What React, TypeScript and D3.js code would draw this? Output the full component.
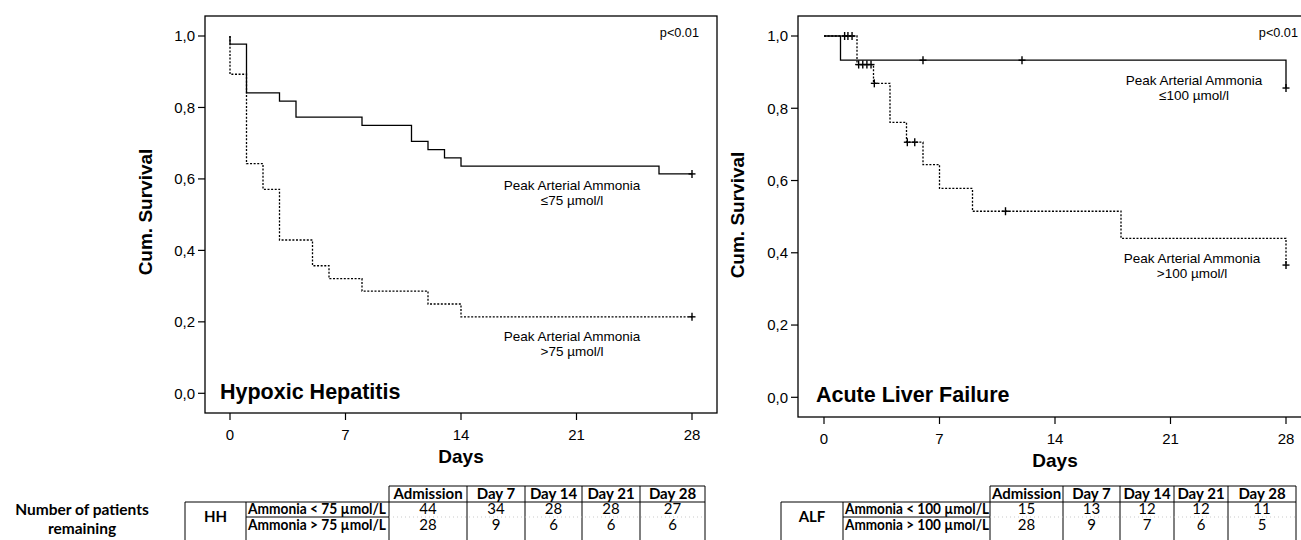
import React from 'react';
import * as d3 from 'd3';

// ---------- data ----------
const dayTicks = [0, 7, 14, 21, 28];
const survTicks = [0, 0.2, 0.4, 0.6, 0.8, 1.0];
const survTickLabels = ['0,0', '0,2', '0,4', '0,6', '0,8', '1,0'];

// Hypoxic hepatitis
const hhLowTimes = [0, 0, 1, 3, 4, 8, 11, 12, 13, 14, 26, 28];
const hhLowSurv = [1, 0.977, 0.841, 0.818, 0.773, 0.75, 0.705, 0.682, 0.659, 0.636, 0.614, 0.614];
const hhLowCensor = [28];
const hhHighTimes = [0, 0, 1, 2, 3, 5, 6, 8, 12, 14, 28];
const hhHighSurv = [1, 0.893, 0.643, 0.571, 0.429, 0.357, 0.321, 0.286, 0.25, 0.214, 0.214];
const hhHighCensor = [28];

// Acute liver failure
const alfLowTimes = [0, 1, 28];
const alfLowSurv = [1, 0.933, 0.856];
const alfLowCensor = [6, 12, 28];
const alfHighTimes = [0, 2, 3, 4, 5, 6, 7, 9, 18, 28];
const alfHighSurv = [1, 0.921, 0.869, 0.761, 0.706, 0.644, 0.578, 0.515, 0.44, 0.366];
const alfHighCensor = [1.25, 1.45, 1.7, 2.1, 2.35, 2.6, 2.85, 3.05, 5.05, 5.5, 11, 28];

// numbers at risk table
const tableCols = ['Admission', 'Day 7', 'Day 14', 'Day 21', 'Day 28'];
const hhRowLabels = ['Ammonia < 75 µmol/L', 'Ammonia > 75 µmol/L'];
const hhLowCounts = [44, 34, 28, 28, 27];
const hhHighCounts = [28, 9, 6, 6, 6];
const alfRowLabels = ['Ammonia < 100 µmol/L', 'Ammonia > 100 µmol/L'];
const alfLowCounts = [15, 13, 12, 12, 11];
const alfHighCounts = [28, 9, 7, 6, 5];

const ARIAL = '"Liberation Sans", Arial, sans-serif';
const CAL = 'Lato, "Open Sans", sans-serif';

function survAt(times: number[], surv: number[], t: number) {
  let s = surv[0];
  for (let i = 0; i < times.length; i++) if (times[i] <= t) s = surv[i];
  return s;
}

type Curve = { times: number[]; surv: number[]; censor: number[]; dashed: boolean };

type PanelProps = {
  frame: { l: number; r: number; t: number; b: number };
  xr: [number, number];
  yr: [number, number];
  curves: Curve[];
  title: string;
  titleX: number;
  titleY: number;
  pX: number;
  labels: { x: number; y: number; lines: string[] }[];
  ylabX: number;
  ylabY: number;
};

function Panel(p: PanelProps) {
  const x = d3.scaleLinear().domain([0, 28]).range(p.xr);
  const y = d3.scaleLinear().domain([0, 1]).range(p.yr);
  const line = d3
    .line<[number, number]>()
    .x((d) => x(d[0]))
    .y((d) => y(d[1]))
    .curve(d3.curveStepAfter);
  const { l, r, t, b } = p.frame;
  const ordered = [...p.curves].sort((a, c) => (a.dashed === c.dashed ? 0 : a.dashed ? -1 : 1));
  return (
    <g>
      <rect x={l} y={t} width={r - l} height={b - t} fill="none" stroke="#000" strokeWidth={1.3} />
      {survTicks.map((v, i) => (
        <g key={'y' + i}>
          <line x1={l - 7} x2={l} y1={y(v)} y2={y(v)} stroke="#000" strokeWidth={1.2} />
          <text x={l - 10} y={y(v)} dy="0.36em" textAnchor="end" fontFamily={ARIAL} fontSize={15}>
            {survTickLabels[i]}
          </text>
        </g>
      ))}
      {dayTicks.map((d) => (
        <g key={'x' + d}>
          <line x1={x(d)} x2={x(d)} y1={b} y2={b + 7} stroke="#000" strokeWidth={1.2} />
          <text x={x(d)} y={b + 27} textAnchor="middle" fontFamily={ARIAL} fontSize={15}>
            {d}
          </text>
        </g>
      ))}
      <text x={x(14)} y={b + 50} textAnchor="middle" fontFamily={ARIAL} fontSize={19} fontWeight="bold">
        Days
      </text>
      <text
        transform={`translate(${p.ylabX},${p.ylabY}) rotate(-90)`}
        textAnchor="middle"
        fontFamily={ARIAL}
        fontSize={19}
        fontWeight="bold"
      >
        Cum. Survival
      </text>
      {ordered.map((c, i) => {
        const pts = c.times.map((tt, j) => [tt, c.surv[j]] as [number, number]);
        return (
          <g key={'c' + i}>
            <path
              d={line(pts) || ''}
              fill="none"
              stroke="#000"
              strokeWidth={1.3}
              strokeDasharray={c.dashed ? '2,1.6' : undefined}
            />
            {c.censor.map((ct, k) => {
              const cx = x(ct);
              const cy = y(survAt(c.times, c.surv, ct));
              return (
                <g key={k} stroke="#000" strokeWidth={1.4}>
                  <line x1={cx - 3.5} x2={cx + 3.5} y1={cy} y2={cy} />
                  <line x1={cx} x2={cx} y1={cy - 4} y2={cy + 4} />
                </g>
              );
            })}
          </g>
        );
      })}
      <text x={p.pX} y={t + 21} textAnchor="end" fontFamily={ARIAL} fontSize={12.7}>
        p&lt;0.01
      </text>
      {p.labels.map((lb, i) => (
        <text key={'l' + i} textAnchor="middle" fontFamily={ARIAL} fontSize={13.5}>
          {lb.lines.map((s, k) => (
            <tspan key={k} x={lb.x} y={lb.y + k * 15}>
              {s}
            </tspan>
          ))}
        </text>
      ))}
      <text x={p.titleX} y={p.titleY} fontFamily={ARIAL} fontSize={21.5} fontWeight="bold">
        {p.title}
      </text>
    </g>
  );
}

type TableProps = {
  group: string;
  gx: [number, number];
  lx: number;
  cols: number[];
  rows: string[];
  counts: number[][];
  labelLen: number;
};

function RiskTable(p: TableProps) {
  const hTop = 486;
  const hBot = 502;
  const rMid = 517;
  const bottom = 545;
  const colMid = (i: number) => (p.cols[i] + p.cols[i + 1]) / 2;
  const right = p.cols[p.cols.length - 1];
  return (
    <g>
      <line x1={p.cols[0]} x2={right} y1={hTop} y2={hTop} stroke="#000" strokeWidth={1} />
      <line x1={p.gx[0]} x2={right} y1={hBot} y2={hBot} stroke="#000" strokeWidth={1} />
      {p.cols.map((c, i) => (
        <line key={'v' + i} x1={c} x2={c} y1={hTop} y2={bottom} stroke="#000" strokeWidth={1} />
      ))}
      <line x1={p.gx[0]} x2={p.gx[0]} y1={hBot} y2={bottom} stroke="#000" strokeWidth={1} />
      <line x1={p.gx[1]} x2={p.gx[1]} y1={hBot} y2={bottom} stroke="#000" strokeWidth={1} />
      <line x1={p.gx[1]} x2={p.cols[0]} y1={rMid} y2={rMid} stroke="#000" strokeWidth={1} />
      <line x1={p.cols[0]} x2={right} y1={rMid} y2={rMid} stroke="#bbb" strokeWidth={0.8} strokeDasharray="1,3" />
      {tableCols.map((c, i) => (
        <text key={'h' + i} x={colMid(i)} y={hBot - 3.5} textAnchor="middle" fontFamily={CAL} fontWeight="bold" fontSize={15}>
          {c}
        </text>
      ))}
      <text x={(p.gx[0] + p.gx[1]) / 2} y={rMid + 5} textAnchor="middle" fontFamily={CAL} fontWeight="bold" fontSize={15}>
        {p.group}
      </text>
      {p.rows.map((rl, r) => (
        <text
          key={'r' + r}
          x={p.lx}
          y={(r === 0 ? rMid : rMid + 16) - 3}
          fontFamily={CAL}
          fontWeight="bold"
          fontSize={15}
          textLength={p.labelLen}
          lengthAdjust="spacingAndGlyphs"
        >
          {rl}
        </text>
      ))}
      {p.counts.map((row, r) =>
        row.map((v, i) => (
          <text key={r + '-' + i} x={colMid(i)} y={(r === 0 ? rMid : rMid + 16) - 3} textAnchor="middle" fontFamily={CAL} fontSize={15}>
            {v}
          </text>
        ))
      )}
    </g>
  );
}

export default function App() {
  return (
    <svg
      width={1301}
      height={540}
      style={{ position: 'absolute', left: 0, top: 0, background: '#fff' }}
      xmlns="http://www.w3.org/2000/svg"
    >
      <rect x={0} y={0} width={1301} height={540} fill="#fff" />
      <Panel
        frame={{ l: 205, r: 717, t: 16, b: 413 }}
        xr={[230, 692]}
        yr={[393.3, 36]}
        curves={[
          { times: hhLowTimes, surv: hhLowSurv, censor: hhLowCensor, dashed: false },
          { times: hhHighTimes, surv: hhHighSurv, censor: hhHighCensor, dashed: true },
        ]}
        title="Hypoxic Hepatitis"
        titleX={220}
        titleY={399}
        pX={699}
        labels={[
          { x: 572, y: 190, lines: ['Peak Arterial Ammonia', '≤75 µmol/l'] },
          { x: 572, y: 341, lines: ['Peak Arterial Ammonia', '>75 µmol/l'] },
        ]}
        ylabX={152}
        ylabY={212}
      />
      <Panel
        frame={{ l: 798, r: 1312, t: 16, b: 417 }}
        xr={[824, 1286]}
        yr={[397.3, 36]}
        curves={[
          { times: alfLowTimes, surv: alfLowSurv, censor: alfLowCensor, dashed: false },
          { times: alfHighTimes, surv: alfHighSurv, censor: alfHighCensor, dashed: true },
        ]}
        title="Acute Liver Failure"
        titleX={816}
        titleY={402}
        pX={1298}
        labels={[
          { x: 1194, y: 85, lines: ['Peak Arterial Ammonia', '≤100 µmol/l'] },
          { x: 1192, y: 263, lines: ['Peak Arterial Ammonia', '>100 µmol/l'] },
        ]}
        ylabX={744}
        ylabY={215}
      />
      <text x={82} y={515} textAnchor="middle" fontFamily={CAL} fontWeight="bold" fontSize={15.5}>
        Number of patients
      </text>
      <text x={82} y={534} textAnchor="middle" fontFamily={CAL} fontWeight="bold" fontSize={15.5}>
        remaining
      </text>
      <RiskTable
        group="HH"
        gx={[185, 246]}
        lx={248}
        cols={[389, 467, 525, 582, 640, 705]}
        rows={hhRowLabels}
        counts={[hhLowCounts, hhHighCounts]}
        labelLen={138}
      />
      <RiskTable
        group="ALF"
        gx={[781, 843]}
        lx={845}
        cols={[990, 1063, 1120, 1174, 1228, 1296]}
        rows={alfRowLabels}
        counts={[alfLowCounts, alfHighCounts]}
        labelLen={144}
      />
    </svg>
  );
}
